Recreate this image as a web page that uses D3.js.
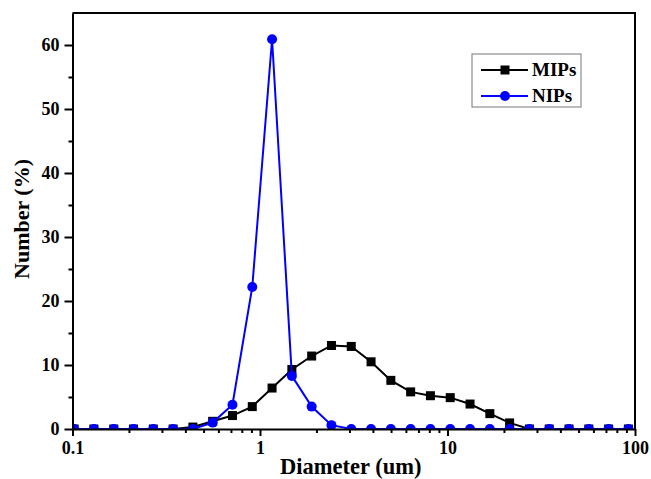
<!DOCTYPE html>
<html>
<head>
<meta charset="utf-8">
<script src="https://d3js.org/d3.v7.min.js"></script>
<style>
  body { margin: 0; background: #fff; }
  text { font-family: "Liberation Serif", "Times New Roman", serif; font-weight: bold; }
</style>
</head>
<body>
<div id="chart"></div>
<script>
// particle size bins (um)
const diameters = [0.102, 0.130, 0.166, 0.2115, 0.2697, 0.344, 0.4386, 0.5593, 0.7132, 0.9095,
  1.1598, 1.479, 1.886, 2.405, 3.067, 3.911, 4.987, 6.360, 8.110, 10.342,
  13.19, 16.82, 21.44, 27.35, 34.87, 44.47, 56.71, 72.31, 92.21];

const mips = [0, 0, 0, 0, 0, 0, 0.3, 1.2, 2.1, 3.5,
  6.4, 9.3, 11.4, 13.05, 12.9, 10.5, 7.6, 5.8, 5.2, 4.9,
  3.9, 2.4, 0.95, 0, 0, 0, 0, 0, 0];

const nips = [0, 0, 0, 0, 0, 0, 0, 1.0, 3.8, 22.2,
  60.9, 8.3, 3.5, 0.6, 0, 0, 0, 0, 0, 0,
  0, 0, 0, 0, 0, 0, 0, 0, 0];

const xMajor = [0.1, 1, 10, 100];
const yMajor = [0, 10, 20, 30, 40, 50, 60];
const yMinor = [5, 15, 25, 35, 45, 55];

const width = 651, height = 479;
const margin = {top: 13, right: 16, bottom: 50, left: 72.5};

const svg = d3.select("#chart")
  .append("svg")
  .attr("width", width)
  .attr("height", height);

const x = d3.scaleLog()
  .domain([0.1, 100])
  .range([margin.left, width - margin.right]);

const y = d3.scaleLinear()
  .domain([0, 65])
  .range([height - margin.bottom, margin.top]);

// minor ticks on the log axis: 2..9 in each decade
const xMinor = [];
[0.1, 1, 10].forEach(d => {
  for (let k = 2; k <= 9; k++) xMinor.push(d * k);
});

// clip data to the frame
svg.append("clipPath").attr("id", "clip")
  .append("rect")
  .attr("x", x.range()[0])
  .attr("y", y.range()[1])
  .attr("width", x.range()[1] - x.range()[0])
  .attr("height", y.range()[0] - y.range()[1]);

const plot = svg.append("g").attr("clip-path", "url(#clip)");

const line = d3.line()
  .x(d => x(d[0]))
  .y(d => y(d[1]));

const mipsPts = diameters.map((d, i) => [d, mips[i]]);
const nipsPts = diameters.map((d, i) => [d, nips[i]]);

// MIPs (black squares)
plot.append("path")
  .attr("d", line(mipsPts))
  .attr("fill", "none")
  .attr("stroke", "#000")
  .attr("stroke-width", 2);

const sq = 9;
plot.selectAll(".mip")
  .data(mipsPts)
  .join("rect")
  .attr("class", "mip")
  .attr("x", d => x(d[0]) - sq / 2)
  .attr("y", d => y(d[1]) - sq / 2)
  .attr("width", sq)
  .attr("height", sq)
  .attr("fill", "#000");

// NIPs (blue circles)
plot.append("path")
  .attr("d", line(nipsPts))
  .attr("fill", "none")
  .attr("stroke", "#0000ff")
  .attr("stroke-width", 2);

plot.selectAll(".nip")
  .data(nipsPts)
  .join("circle")
  .attr("class", "nip")
  .attr("cx", d => x(d[0]))
  .attr("cy", d => y(d[1]))
  .attr("r", 5)
  .attr("fill", "#0000ff");

// axes
const axisBottom = svg.append("g")
  .attr("transform", `translate(0,${y(0)})`)
  .call(d3.axisBottom(x).tickValues(xMajor).tickSize(7).tickSizeOuter(0)
    .tickFormat(d => d === 0.1 ? "0.1" : d3.format("d")(d)));

svg.append("g")
  .attr("transform", `translate(0,${y(0)})`)
  .call(d3.axisBottom(x).tickValues(xMinor).tickSize(4).tickFormat(""))
  .call(g => g.select(".domain").remove());

const axisLeft = svg.append("g")
  .attr("transform", `translate(${x(0.1)},0)`)
  .call(d3.axisLeft(y).tickValues(yMajor).tickSize(8).tickSizeOuter(0));

svg.append("g")
  .attr("transform", `translate(${x(0.1)},0)`)
  .call(d3.axisLeft(y).tickValues(yMinor).tickSize(4).tickFormat(""))
  .call(g => g.select(".domain").remove());

svg.selectAll(".tick line").attr("stroke", "#000").attr("stroke-width", 2);
svg.selectAll(".domain").attr("stroke", "#000").attr("stroke-width", 2);

axisBottom.selectAll("text")
  .attr("font-size", 18)
  .attr("fill", "#000")
  .attr("dy", "0.85em");

axisLeft.selectAll("text")
  .attr("font-size", 18)
  .attr("fill", "#000")
  .attr("x", -13);

// top and right frame
svg.append("path")
  .attr("d", `M${x(0.1)},${y(65)}H${x(100)}V${y(0)}`)
  .attr("fill", "none")
  .attr("stroke", "#000")
  .attr("stroke-width", 2);

// axis titles
svg.append("text")
  .attr("x", (x.range()[0] + x.range()[1]) / 2 - 3)
  .attr("y", 474)
  .attr("text-anchor", "middle")
  .attr("font-size", 22.5)
  .text("Diameter (um)");

svg.append("text")
  .attr("transform", `translate(29,${(y.range()[0] + y.range()[1]) / 2 - 2}) rotate(-90)`)
  .attr("text-anchor", "middle")
  .attr("font-size", 22)
  .text("Number (%)");

// legend
const legend = svg.append("g").attr("transform", "translate(472,54)");
legend.append("rect")
  .attr("width", 109)
  .attr("height", 53)
  .attr("fill", "#fff")
  .attr("stroke", "#777")
  .attr("stroke-width", 1);

const entries = [
  {name: "MIPs", color: "#000", shape: "square"},
  {name: "NIPs", color: "#0000ff", shape: "circle"}
];

entries.forEach((e, i) => {
  const ly = 16 + i * 26;
  const g = legend.append("g");
  g.append("line")
    .attr("x1", 9).attr("x2", 56)
    .attr("y1", ly).attr("y2", ly)
    .attr("stroke", e.color)
    .attr("stroke-width", 2);
  if (e.shape === "square") {
    g.append("rect")
      .attr("x", 33 - sq / 2).attr("y", ly - sq / 2)
      .attr("width", sq).attr("height", sq)
      .attr("fill", e.color);
  } else {
    g.append("circle")
      .attr("cx", 33).attr("cy", ly).attr("r", 5)
      .attr("fill", e.color);
  }
  g.append("text")
    .attr("x", 60)
    .attr("y", ly + 6)
    .attr("font-size", 19)
    .text(e.name);
});
</script>
</body>
</html>
